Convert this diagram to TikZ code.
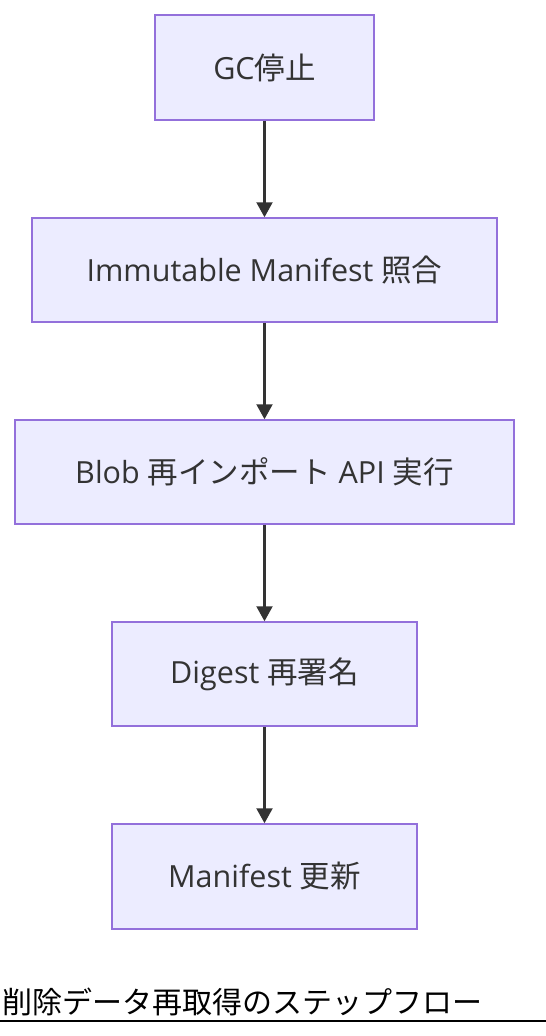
\documentclass[tikz,border=0pt]{standalone}
\usepackage{fontspec}
\setmainfont{Open Sans}
\newfontfamily\cjk{Noto Sans CJK JP}
\usetikzlibrary{arrows.meta}
\definecolor{boxfill}{HTML}{ECECFF}
\definecolor{boxline}{HTML}{9370DB}
\definecolor{ink}{HTML}{333333}
\tikzset{
  stepbox/.style={draw=boxline, fill=boxfill, line width=1.5pt, inner sep=0pt,
    text=ink, font=\fontsize{30.5}{35}\selectfont, anchor=center},
  flow/.style={draw=ink, line width=2.2pt, -{Triangle[length=15pt,width=16pt]}}
}
\begin{document}
\begin{tikzpicture}[x=1pt,y=-1pt]
\useasboundingbox (0,0) rectangle (546,1036);
\node[stepbox, minimum width=219pt, minimum height=105pt] (a) at (264.5,67.5) {GC{\cjk 停止}};
\node[stepbox, minimum width=465pt, minimum height=104pt] (b) at (264.5,270) {Immutable Manifest {\cjk 照合}};
\node[stepbox, minimum width=499pt, minimum height=104pt] (c) at (264.5,472) {Blob {\cjk 再インポート} API {\cjk 実行}};
\node[stepbox, minimum width=305pt, minimum height=104pt] (d) at (264.5,674) {Digest {\cjk 再署名}};
\node[stepbox, minimum width=305pt, minimum height=105pt] (e) at (264.5,876.5) {Manifest {\cjk 更新}};
\draw[flow] (a) -- (b);
\draw[flow] (b) -- (c);
\draw[flow] (c) -- (d);
\draw[flow] (d) -- (e);
\node[anchor=base west, inner sep=0pt, font=\cjk\fontsize{30}{34}\selectfont] (cap) at (2,1013) {削除データ再取得のステップフロー};
\coordinate (l0) at (0,1021);
\coordinate (l1) at (546,1021);
\draw[line width=2.4pt] (l0) -- (l1);
\end{tikzpicture}
\end{document}
